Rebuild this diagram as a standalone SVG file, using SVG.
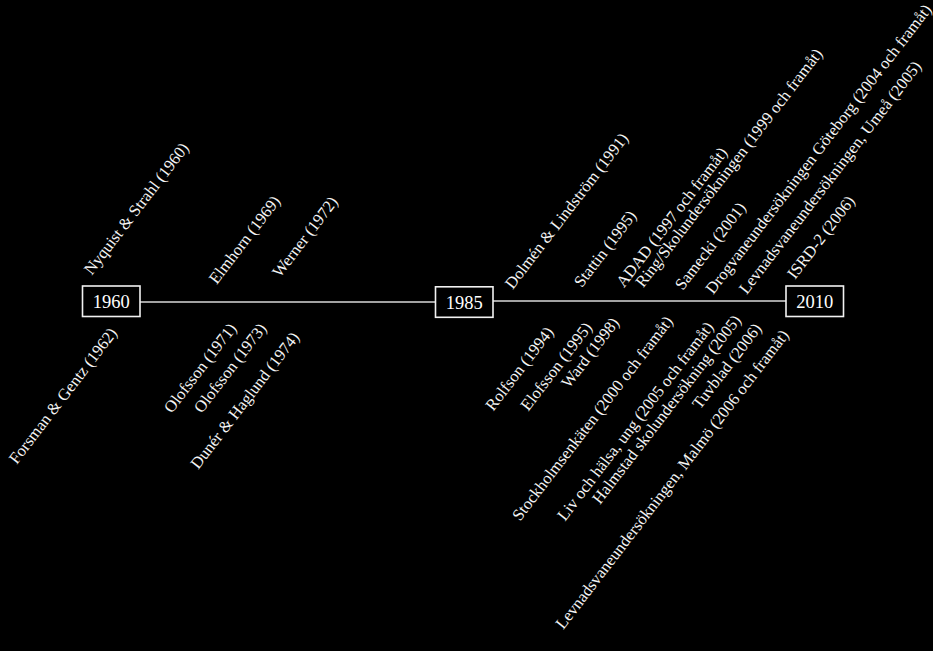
<svg xmlns="http://www.w3.org/2000/svg" width="933" height="651" viewBox="0 0 933 651">
<style>
.bg{fill:#000}
.box{fill:#000;stroke:#f2f2f2;stroke-width:1.6}
.yr{fill:#fff;font-family:"Liberation Serif","Times New Roman",serif;font-size:18.5px;text-anchor:middle}
.lb{fill:#f4f4f4;font-family:"Liberation Serif","Times New Roman",serif;font-size:16.5px}
.ln{stroke:#d9d9d9;stroke-width:1.6;fill:none}
</style>
<rect class="bg" x="0" y="0" width="933" height="651"/>
<g id="connectors">
<line class="ln" x1="140" y1="302" x2="435" y2="302"/>
<line class="ln" x1="493" y1="301" x2="786" y2="301"/>
</g>
<g id="y1960"><rect class="box" x="82.5" y="286" width="57.5" height="30.5"/><text class="yr" x="111.2" y="307.8">1960</text></g>
<g id="y1985"><rect class="box" x="435.5" y="286.8" width="57.5" height="30.5"/><text class="yr" x="464.2" y="308.5">1985</text></g>
<g id="y2010"><rect class="box" x="786" y="286" width="57.5" height="30.5"/><text class="yr" x="814.7" y="307.8">2010</text></g>
<g id="labels-above">
<text class="lb" transform="translate(91.7,275.7) rotate(-52.5)">Nyquist &amp; Strahl (1960)</text>
<text class="lb" transform="translate(216.7,285) rotate(-52.5)">Elmhorn (1969)</text>
<text class="lb" transform="translate(280,278.3) rotate(-52.5)">Werner (1972)</text>
<text class="lb" transform="translate(512.7,290) rotate(-52.5)">Dolmén &amp; Lindström (1991)</text>
<text class="lb" transform="translate(581.7,288.3) rotate(-52.5)">Stattin (1995)</text>
<text class="lb" transform="translate(624,288.3) rotate(-52.5)">ADAD (1997 och framåt)</text>
<text class="lb" transform="translate(643.3,288.3) rotate(-52.5)">Ring/Skolundersökningen (1999 och framåt)</text>
<text class="lb" transform="translate(682.7,291) rotate(-52.5)">Samecki (2001)</text>
<text class="lb" transform="translate(713.3,295) rotate(-52.5)">Drogvaneundersökningen Göteborg (2004 och framåt)</text>
<text class="lb" transform="translate(746.7,295) rotate(-52.5)">Levnadsvaneundersökningen, Umeå (2005)</text>
<text class="lb" transform="translate(795,280) rotate(-52.5)">ISRD-2 (2006)</text>
</g>
<g id="labels-below">
<text class="lb" transform="translate(16.7,465) rotate(-52.5)">Forsman &amp; Gentz (1962)</text>
<text class="lb" transform="translate(171.7,414) rotate(-52.5)">Olofsson (1971)</text>
<text class="lb" transform="translate(201.7,414) rotate(-52.5)">Olofsson (1973)</text>
<text class="lb" transform="translate(198.3,470) rotate(-52.5)">Dunér &amp; Haglund (1974)</text>
<text class="lb" transform="translate(493.3,411.7) rotate(-52.5)">Rolfson (1994)</text>
<text class="lb" transform="translate(528.3,411.7) rotate(-52.5)">Elofsson (1995)</text>
<text class="lb" transform="translate(569,389) rotate(-52.5)">Ward (1998)</text>
<text class="lb" transform="translate(520,521.7) rotate(-52.5)">Stockholmsenkäten (2000 och framåt)</text>
<text class="lb" transform="translate(565,521.7) rotate(-52.5)">Liv och hälsa, ung (2005 och framåt)</text>
<text class="lb" transform="translate(600,505) rotate(-52.5)">Halmstad skolundersökning (2005)</text>
<text class="lb" transform="translate(700,410) rotate(-52.5)">Tuvblad (2006)</text>
<text class="lb" transform="translate(563.3,630) rotate(-52.5)">Levnadsvaneundersökningen, Malmö (2006 och framåt)</text>
</g>
</svg>
